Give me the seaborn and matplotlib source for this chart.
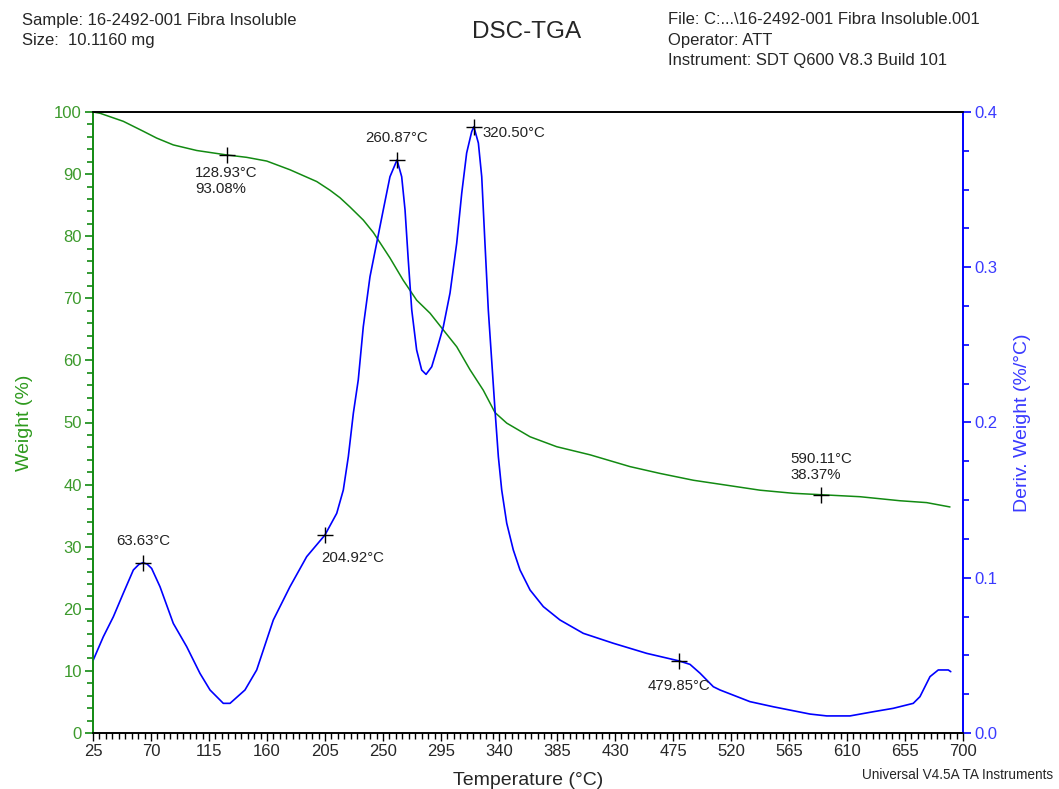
import seaborn as sns
import matplotlib.pyplot as plt
import pandas as pd
from matplotlib.ticker import MultipleLocator

# TGA weight curve (green)
tga_temp = [25, 30.4, 48.5, 64.0, 74.4, 87.3, 105.5, 128.9, 144.2, 159.8, 177.8, 198.6,
            208.9, 216.6, 224.4, 234.7, 242.5, 255.4, 265.7, 276.1, 286.5, 296.8, 307.2,
            317.5, 327.8, 336.9, 346.0, 364.1, 384.8, 410.6, 441.6, 464.9, 490.8, 516.7,
            542.5, 568.3, 590.1, 620.1, 651.1, 671.8, 689.9]
tga_weight = [100, 99.8, 98.5, 96.9, 95.8, 94.7, 93.8, 93.08, 92.7, 92.1, 90.7, 88.8,
              87.4, 86.2, 84.7, 82.6, 80.6, 76.5, 72.9, 69.7, 67.6, 64.9, 62.2,
              58.5, 55.2, 51.6, 49.9, 47.7, 46.1, 44.8, 42.9, 41.8, 40.7, 39.9,
              39.1, 38.6, 38.37, 38.05, 37.4, 37.1, 36.4]

# derivative weight curve (blue)
dtg_temp = [25.2, 33.0, 40.8, 48.5, 56.3, 60.5, 63.63, 67.0, 70.5, 77.0, 87.3, 97.7, 108.0,
            115.8, 126.1, 131.3, 142.9, 152.0, 164.9, 177.8, 190.8, 204.92, 214.1, 219.2,
            223.1, 227.0, 230.8, 234.7, 239.9, 245.1, 250.2, 255.4, 260.87, 264.5, 267.1,
            269.6, 272.3, 276.1, 280.0, 283.4, 287.8, 291.7, 296.8, 302.0, 307.2, 311.1,
            314.9, 318.8, 320.5, 324.0, 326.6, 329.1, 331.7, 334.3, 336.9, 339.5, 342.1,
            346.0, 351.1, 356.3, 364.1, 374.4, 387.3, 405.4, 428.7, 454.6, 479.85, 488.2,
            496.0, 506.3, 511.5, 534.7, 552.8, 581.3, 594.3, 612.3, 630.4, 645.9, 661.4,
            666.6, 674.4, 680.8, 688.6, 690.5]
dtg_value = [0.047, 0.062, 0.0749, 0.090, 0.105, 0.1085, 0.1097, 0.1088, 0.106, 0.0942,
             0.0706, 0.0556, 0.0384, 0.0277, 0.0191, 0.0191, 0.0277, 0.0406, 0.0728, 0.0942,
             0.1136, 0.1275, 0.1415, 0.1565, 0.178, 0.206, 0.2274, 0.2617, 0.2939, 0.3156,
             0.3369, 0.3583, 0.3691, 0.3583, 0.3369, 0.3047, 0.2725, 0.2467, 0.2338, 0.2310,
             0.2359, 0.2467, 0.2617, 0.2834, 0.3156, 0.3478, 0.3736, 0.3873, 0.3905, 0.3800,
             0.3583, 0.3156, 0.2725, 0.2403, 0.2080, 0.178, 0.1565, 0.1351, 0.1179, 0.105,
             0.0921, 0.0814, 0.0728, 0.0642, 0.0578, 0.0513, 0.0464, 0.0442, 0.0385, 0.0298,
             0.0277, 0.0202, 0.0169, 0.0122, 0.011, 0.011, 0.0137, 0.0159, 0.0191, 0.0234,
             0.0363, 0.0406, 0.0406, 0.0395]

# annotated points
tga_mark_temp = [128.93, 590.11]
tga_mark_weight = [93.08, 38.37]
tga_mark_text = ['128.93°C\n93.08%', '590.11°C\n38.37%']
tga_mark_off = [(-32, -11, 'left', 'top'), (-31, 13, 'left', 'bottom')]

dtg_mark_temp = [63.63, 204.92, 260.87, 320.50, 479.85]
dtg_mark_value = [0.1097, 0.1275, 0.3691, 0.3905, 0.0464]
dtg_mark_text = ['63.63°C', '204.92°C', '260.87°C', '320.50°C', '479.85°C']
dtg_mark_off = [(0, 15, 'center', 'bottom'), (-4, -23, 'left', 'center'),
                (0, 15, 'center', 'bottom'), (9, -6, 'left', 'center'),
                (0, -25, 'center', 'center')]

GREEN = '#128a12'
GREEN_TXT = '#3c9a2c'
BLUE = '#0000ff'
BLUE_TXT = '#3a3aff'

sns.set_style('white')
plt.rcParams['font.family'] = ['Liberation Sans', 'DejaVu Sans']

fig = plt.figure(figsize=(10.59, 7.89), dpi=100)
ax = fig.add_axes([93/1059, 1-733/789, 870/1059, 621/789])
ax2 = ax.twinx()

tga = pd.DataFrame({'temp': tga_temp, 'weight': tga_weight})
dtg = pd.DataFrame({'temp': dtg_temp, 'deriv': dtg_value})
sns.lineplot(data=tga, x='temp', y='weight', ax=ax, color=GREEN, lw=1.1)
sns.lineplot(data=dtg, x='temp', y='deriv', ax=ax2, color=BLUE, lw=1.2)

ax.set_xlim(25, 700)
ax.set_ylim(0, 100)
ax2.set_ylim(0, 0.4)
ax.set_xticks(range(25, 701, 45))
ax.xaxis.set_minor_locator(MultipleLocator(5))
ax.yaxis.set_major_locator(MultipleLocator(10))
ax.yaxis.set_minor_locator(MultipleLocator(2))
ax2.yaxis.set_major_locator(MultipleLocator(0.1))
ax2.yaxis.set_minor_locator(MultipleLocator(0.025))
ax2.set_yticklabels([f'{v:.1f}' for v in ax2.get_yticks()])

for a in (ax, ax2):
    for s in a.spines.values():
        s.set_linewidth(1.2)
    a.spines['top'].set_color('black')
    a.spines['bottom'].set_color('black')
    a.spines['left'].set_color(GREEN)
    a.spines['right'].set_color(BLUE)

ax.tick_params(axis='x', which='major', direction='out', length=6, width=1, color='black',
               labelsize=12, bottom=True, pad=2)
ax.tick_params(axis='x', which='minor', direction='out', length=4, width=1, color='black', bottom=True)
ax.tick_params(axis='y', which='major', direction='out', length=6, width=1.2, color=GREEN,
               labelcolor=GREEN_TXT, labelsize=12, left=True, pad=2)
ax.tick_params(axis='y', which='minor', direction='out', length=4, width=1.2, color=GREEN, left=True)
ax2.tick_params(axis='y', which='major', direction='out', length=6, width=1.2, color=BLUE,
                labelcolor=BLUE_TXT, labelsize=12, right=True, pad=2)
ax2.tick_params(axis='y', which='minor', direction='out', length=4, width=1.2, color=BLUE, right=True)

ax.set_xlabel('Temperature (°C)', fontsize=14, labelpad=9)
ax.set_ylabel('Weight (%)', fontsize=14, color='#2e9a1e', labelpad=15)
ax2.set_ylabel('Deriv. Weight (%/°C)', fontsize=14, color=BLUE_TXT, labelpad=12)

# markers and labels
ax.plot(tga_mark_temp, tga_mark_weight, '+', color='black', ms=11, mew=1)
for t, w, s, (dx, dy, ha, va) in zip(tga_mark_temp, tga_mark_weight, tga_mark_text, tga_mark_off):
    ax.annotate(s, (t, w), xytext=(dx, dy), textcoords='offset pixels', ha=ha, va=va,
                fontsize=10.8, color='#222222', linespacing=1.15)
ax2.plot(dtg_mark_temp, dtg_mark_value, '+', color='black', ms=11, mew=1)
for t, v, s, (dx, dy, ha, va) in zip(dtg_mark_temp, dtg_mark_value, dtg_mark_text, dtg_mark_off):
    ax2.annotate(s, (t, v), xytext=(dx, dy), textcoords='offset pixels', ha=ha, va=va,
                 fontsize=10.8, color='#222222')

# header
fig.text(22/1059, 1-20/789, 'Sample: 16-2492-001 Fibra Insoluble', fontsize=12, va='center')
fig.text(22/1059, 1-40/789, 'Size:  10.1160 mg', fontsize=12, va='center')
fig.text(527/1059, 1-32/789, 'DSC-TGA', fontsize=17.5, ha='center', va='center')
fig.text(668/1059, 1-20/789, 'File: C:...\\16-2492-001 Fibra Insoluble.001', fontsize=12, va='center')
fig.text(668/1059, 1-40/789, 'Operator: ATT', fontsize=12, va='center')
fig.text(668/1059, 1-60/789, 'Instrument: SDT Q600 V8.3 Build 101', fontsize=12, va='center')
fig.text(862/1059, 1-775/789, 'Universal V4.5A TA Instruments', fontsize=9.8, va='center')

fig.savefig('out.png', dpi=100)
